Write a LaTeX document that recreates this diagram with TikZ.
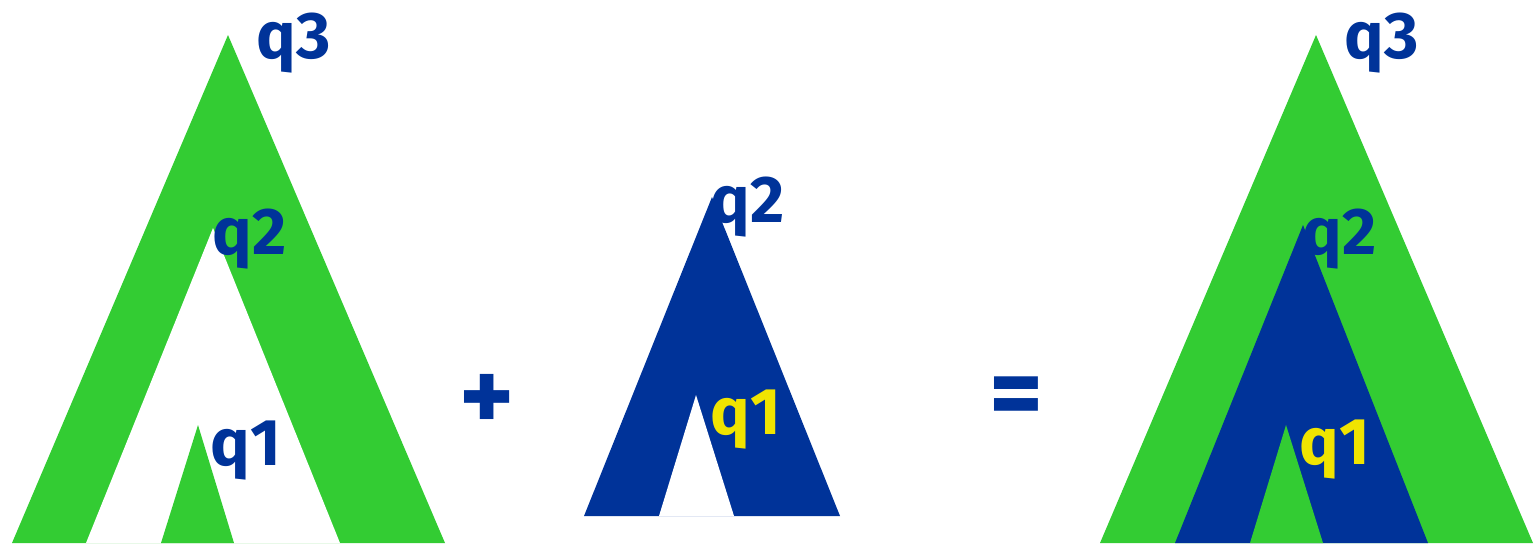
\documentclass[tikz,border=0pt]{standalone}
\usepackage{fontspec}
\setmainfont{Fira Sans}
\definecolor{leafgreen}{RGB}{51,204,51}
\definecolor{treeblue}{RGB}{0,51,153}
\definecolor{rootyellow}{RGB}{240,228,0}

\begin{document}
\begin{tikzpicture}[
        x=0.5pt, y=-0.5pt,
        lbl/.style={anchor=base west, inner sep=0pt, font=\fontsize{33}{40}\selectfont\bfseries},
        op/.style={inner sep=0pt, text=treeblue, font=\fontsize{52}{60}\selectfont\bfseries}
    ]
    \useasboundingbox (0,0) rectangle (1534,543);

    % Left tree: q3 with a hole at q2, subtree at q1
    \fill[leafgreen] (12,543) -- (228,35) -- (445,543) -- cycle;
    \fill[white] (86,543) -- (213,228) -- (340,543) -- cycle;
    \fill[leafgreen] (161,543) -- (198,425) -- (234,543) -- cycle;

    % Middle tree: q2 with a hole at q1
    \fill[treeblue] (584,516) -- (712,197) -- (840,516) -- cycle;
    \fill[white] (659,516) -- (696,395) -- (734,516) -- cycle;

    % Right tree: result
    \fill[leafgreen] (1100,543) -- (1316,35) -- (1533,543) -- cycle;
    \fill[treeblue] (1175,543) -- (1303,225) -- (1428,543) -- cycle;
    \fill[leafgreen] (1250,543) -- (1286,425) -- (1323,543) -- cycle;

    % Labels
    \node[lbl, text=treeblue] (q3L) at (256,58) {q3};
    \node[lbl, text=treeblue] (q2L) at (212,254) {q2};
    \node[lbl, text=treeblue] (q1L) at (210,465) {q1};

    \node[lbl, text=treeblue] (q2M) at (710,222) {q2};
    \node[lbl, text=rootyellow] (q1M) at (710,434) {q1};

    \node[lbl, text=treeblue] (q3R) at (1344,58) {q3};
    \node[lbl, text=treeblue] (q2R) at (1302,254) {q2};
    \node[lbl, text=rootyellow] (q1R) at (1299,464) {q1};

    % Operators
    \node[op] (plus) at (487,403) {+};
    \node[op] (eq) at (1016,403) {=};
\end{tikzpicture}
\end{document}
